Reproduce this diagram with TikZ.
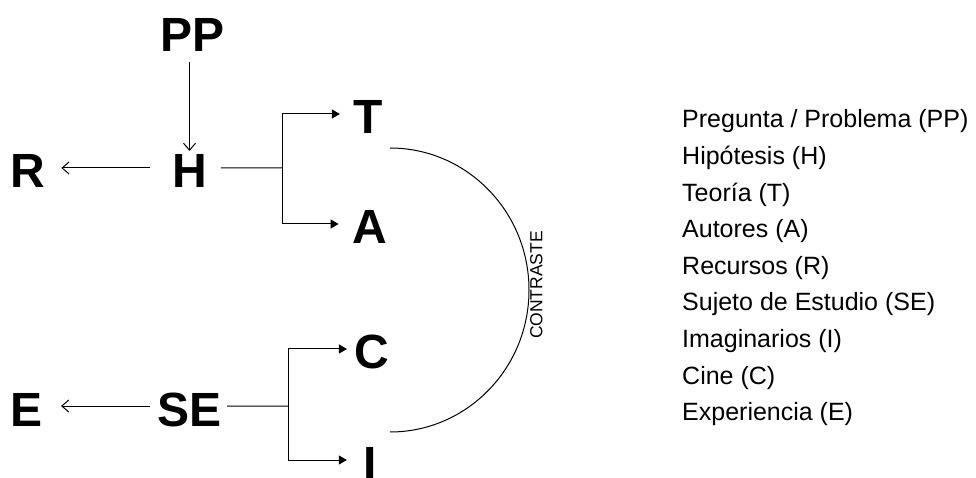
\documentclass[tikz,border=0pt]{standalone}
\usepackage{fontspec}
\setmainfont{Liberation Sans}
\usetikzlibrary{arrows.meta}
\begin{document}
\begin{tikzpicture}[x=1bp,y=-1bp,
  big/.style={font=\fontsize{48bp}{48bp}\selectfont\bfseries, inner sep=0pt, outer sep=0pt, text height=40bp, text depth=0pt, anchor=base},
  legend/.style={font=\fontsize{25bp}{30bp}\selectfont, inner sep=0pt, anchor=base west},
  conn/.style={line width=1bp, draw=black},
  openarr/.style={conn, -{Straight Barb[length=7bp,width=12bp,line width=1bp]}},
  triarr/.style={conn, -{Triangle[length=8bp,width=9bp]}}
]
\useasboundingbox (0,0) rectangle (976,478);

% main letters
\node[big] (PP) at (192.5,52) {PP};
\node[big] (H)  at (189.5,188) {H};
\node[big] (R)  at (28,188) {R};
\node[big] (T)  at (368.5,134) {T};
\node[big] (A)  at (369.5,244) {A};
\node[big] (C)  at (372,369) {C};
\node[big] (SE) at (189.5,426) {SE};
\node[big] (E)  at (26.5,426) {E};
\node[big] (I)  at (370.5,480) {I};

% fork points
\coordinate (hfork) at (282,168);
\coordinate (sfork) at (288,406);

% connectors
\draw[openarr, shorten <=10bp] (PP.south -| H.north) -- ([yshift=-3bp]H.north);
\draw[openarr, shorten <=22bp, shorten >=16bp] (H.west) -- (R.east);
\draw[openarr, shorten <=7.5bp, shorten >=18.5bp] (SE.west) -- (E.east);

\draw[conn, shorten <=14bp] (H.east) -- (hfork);
\draw[triarr, shorten >=14bp] (hfork) |- (T.west);
\draw[triarr, shorten >=13.5bp] (hfork) |- (A.west);

\draw[conn, shorten <=5.5bp] (SE.east) -- (sfork);
\draw[triarr, shorten >=7.7bp] (sfork) |- (C.west);
\draw[triarr, shorten >=17bp] (sfork) |- (I.west);

% contrast arc
\coordinate (arcstart) at (390,148);
\draw[conn] (arcstart) arc[start angle=-90, end angle=90, x radius=139, y radius=142] coordinate (arcend);
\node[rotate=90, anchor=north, inner sep=1bp, font=\fontsize{17.5bp}{20bp}\selectfont] (contraste) at (529,285) {CONTRASTE};

% legend
\node[legend] (l1) at (682,128) {Pregunta / Problema (PP)};
\node[legend] (l2) at (682,164.6) {Hipótesis (H)};
\node[legend] (l3) at (682,201.2) {Teoría (T)};
\node[legend] (l4) at (682,237.8) {Autores (A)};
\node[legend] (l5) at (682,274.4) {Recursos (R)};
\node[legend] (l6) at (682,311) {Sujeto de Estudio (SE)};
\node[legend] (l7) at (682,347.6) {Imaginarios (I)};
\node[legend] (l8) at (682,384.2) {Cine (C)};
\node[legend] (l9) at (682,420.8) {Experiencia (E)};
\end{tikzpicture}
\end{document}
